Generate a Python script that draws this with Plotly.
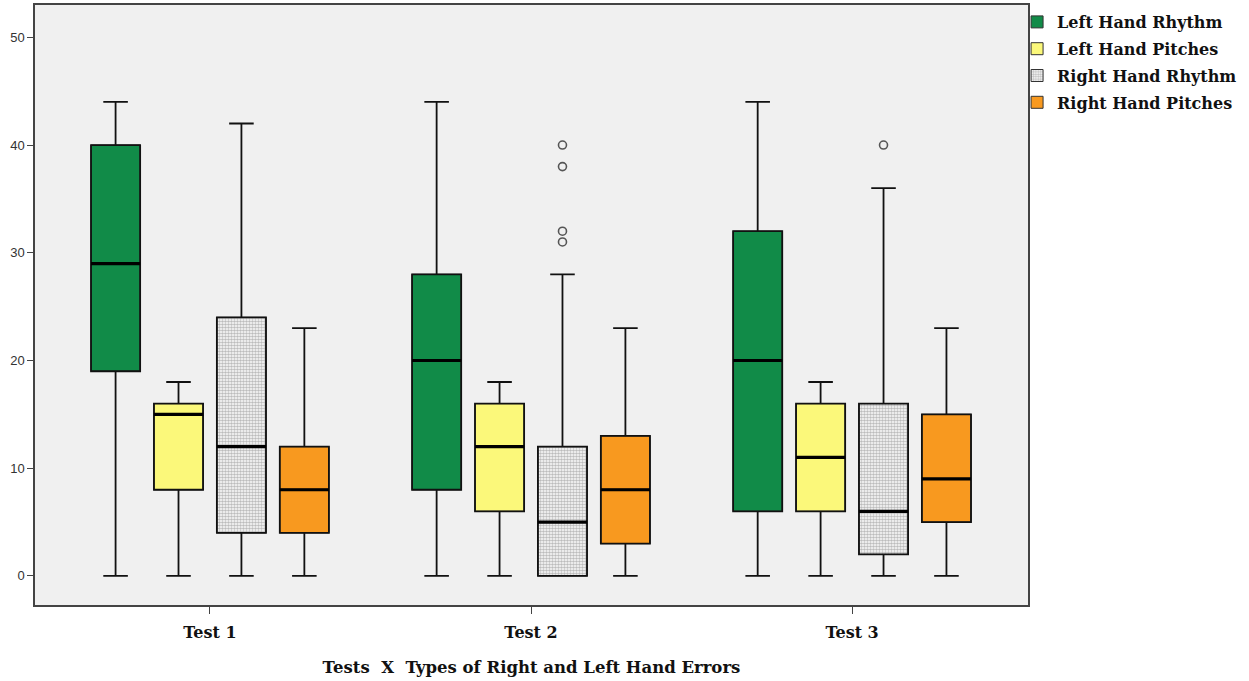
import plotly.graph_objects as go

tests = ["Test 1", "Test 2", "Test 3"]
series_names = ["Left Hand Rhythm", "Left Hand Pitches", "Right Hand Rhythm", "Right Hand Pitches"]

# per series: lower fence, q1, median, q3, upper fence for Test 1..3
lhr_lo = [0, 0, 0]
lhr_q1 = [19, 8, 6]
lhr_med = [29, 20, 20]
lhr_q3 = [40, 28, 32]
lhr_hi = [44, 44, 44]

lhp_lo = [0, 0, 0]
lhp_q1 = [8, 6, 6]
lhp_med = [15, 12, 11]
lhp_q3 = [16, 16, 16]
lhp_hi = [18, 18, 18]

rhr_lo = [0, 0, 0]
rhr_q1 = [4, 0, 2]
rhr_med = [12, 5, 6]
rhr_q3 = [24, 12, 16]
rhr_hi = [42, 28, 36]

rhp_lo = [0, 0, 0]
rhp_q1 = [4, 3, 5]
rhp_med = [8, 8, 9]
rhp_q3 = [12, 13, 15]
rhp_hi = [23, 23, 23]

# outliers (test index, value)
rhr_out_test = [1, 1, 1, 1, 2]
rhr_out_val = [31, 32, 38, 40, 40]

stats = [
    (lhr_lo, lhr_q1, lhr_med, lhr_q3, lhr_hi),
    (lhp_lo, lhp_q1, lhp_med, lhp_q3, lhp_hi),
    (rhr_lo, rhr_q1, rhr_med, rhr_q3, rhr_hi),
    (rhp_lo, rhp_q1, rhp_med, rhp_q3, rhp_hi),
]
colors = ["#118B48", "#FBF87A", "#FFFFFF", "#F8991F"]
offsets = [-1.5, -0.5, 0.5, 1.5]
STEP = 0.196
BW = 0.153

fig = go.Figure()

for i, (name, (lo, q1, med, q3, hi)) in enumerate(zip(series_names, stats)):
    xs = [t + offsets[i] * STEP for t in range(len(tests))]
    grp = "g%d" % i
    marker = dict(color=colors[i], line=dict(color="#333333", width=1))
    if i == 2:
        marker["pattern"] = dict(shape=".", fgcolor="#7a7a7a", bgcolor="#ffffff",
                                 size=3, solidity=0.6, fillmode="overlay")
    # box body (fill / pattern + legend swatch)
    fig.add_trace(go.Bar(
        x=xs, y=[b - a for a, b in zip(q1, q3)], base=q1, width=BW,
        name="<b>" + name + "</b>", marker=marker, hoverinfo="skip",
        showlegend=True, legendgroup=grp,
    ))
    # whiskers, box outline and median
    fig.add_trace(go.Box(
        x=xs, q1=q1, median=med, q3=q3, lowerfence=lo, upperfence=hi,
        width=BW, whiskerwidth=0.5, fillcolor="rgba(0,0,0,0)",
        line=dict(color="#111111", width=1.8), showlegend=False, name=name,
        boxpoints=False, legendgroup=grp,
    ))
    # thicker median line
    mx, my = [], []
    for x0, m in zip(xs, med):
        mx += [x0 - BW / 2, x0 + BW / 2, None]
        my += [m, m, None]
    fig.add_trace(go.Scatter(x=mx, y=my, mode="lines",
                             line=dict(color="#000000", width=3.2),
                             showlegend=False, hoverinfo="skip", legendgroup=grp))

# outliers
fig.add_trace(go.Scatter(
    x=[t + offsets[2] * STEP for t in rhr_out_test], y=rhr_out_val, mode="markers",
    marker=dict(symbol="circle-open", size=8, color="#555555", line=dict(width=1.6)),
    showlegend=False, hoverinfo="skip",
))

serif = "DejaVu Serif"
fig.update_layout(
    width=1249, height=681,
    margin=dict(l=35, r=221, t=5, b=76, autoexpand=False),
    paper_bgcolor="white", plot_bgcolor="#F0F0F0",
    barmode="overlay", boxmode="overlay",
    showlegend=True,
    legend=dict(x=0.989, xanchor="left", y=1.0, yanchor="top",
                font=dict(family=serif, size=16, color="#111111"),
                tracegroupgap=3, itemwidth=30, bgcolor="rgba(0,0,0,0)"),
    xaxis=dict(
        range=[-0.545, 2.548], tickmode="array", tickvals=[0, 1, 2],
        ticktext=["<b>" + t + "</b>" for t in tests],
        ticks="outside", ticklen=7, tickcolor="#444444", automargin=False,
        ticklabelstandoff=5,
        showgrid=False, zeroline=False, showline=True, linecolor="#444444",
        linewidth=1.5, mirror=True,
        tickfont=dict(family=serif, size=16, color="#111111"),
        title=dict(text="<b>Tests  X  Types of Right and Left Hand Errors</b>",
                   font=dict(family=serif, size=16.5, color="#111111"), standoff=20),
    ),
    yaxis=dict(
        range=[-2.7, 53.0], tickvals=[0, 10, 20, 30, 40, 50],
        ticks="outside", ticklen=6, tickcolor="#444444", automargin=False,
        showgrid=False, zeroline=False, showline=True, linecolor="#444444",
        linewidth=1.5, mirror=True,
        tickfont=dict(family="Liberation Sans", size=13, color="#333333"),
    ),
)

fig.write_html("out.html", config={"displayModeBar": False},
               post_script="document.body.style.margin='0';")
